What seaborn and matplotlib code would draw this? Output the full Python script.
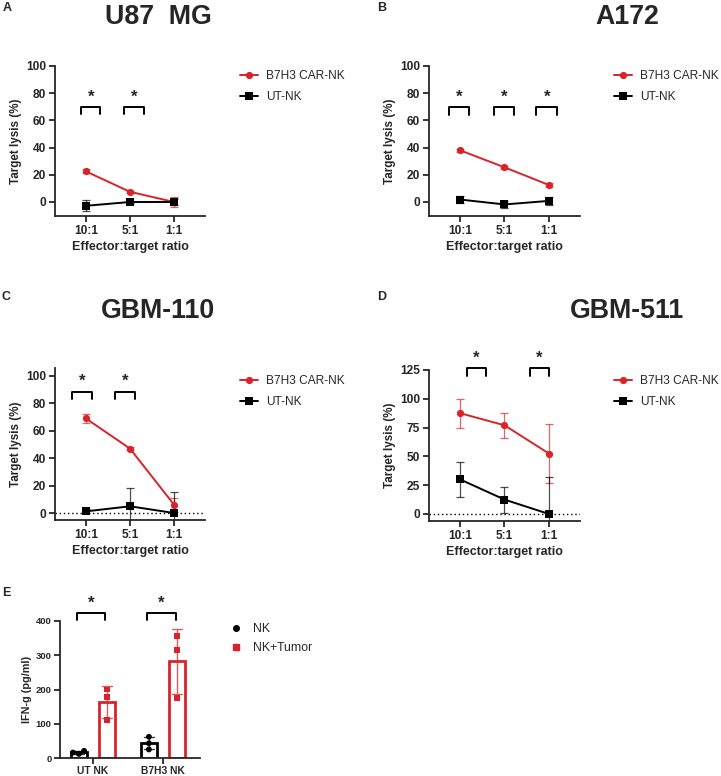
import numpy as np
import pandas as pd
import matplotlib
matplotlib.use("Agg")
import matplotlib.pyplot as plt
from matplotlib.lines import Line2D
import seaborn as sns

# ---- data ----
ratios = ["10:1", "5:1", "1:1"]
groups = ["B7H3 CAR-NK", "UT-NK"]

u87_car = [22.5, 7.5, 0.0]
u87_car_sd = [1.5, 0.8, 4.0]
u87_ut = [-2.8, 0.0, 0.0]
u87_ut_sd = [3.9, 1.0, 2.5]

a172_car = [38.0, 25.5, 12.5]
a172_car_sd = [1.0, 1.0, 1.5]
a172_ut = [1.8, -1.8, 0.8]
a172_ut_sd = [2.8, 2.8, 3.0]

gbm110_car = [69.0, 47.0, 6.0]
gbm110_car_sd = [3.0, 1.0, 5.0]
gbm110_ut = [1.2, 4.9, 0.0]
gbm110_ut_sd = [1.5, 13.0, 15.5]

gbm511_car = [87.5, 77.0, 52.5]
gbm511_car_sd = [12.6, 10.7, 25.5]
gbm511_ut = [30.0, 12.5, 0.0]
gbm511_ut_sd = [15.5, 11.3, 31.8]

# significance brackets: (x start, x end, top, leg bottom)
u87_sig = [(-0.1, 0.33, 70, 65), (0.87, 1.32, 70, 65)]
a172_sig = [(-0.25, 0.2, 70, 64), (0.76, 1.21, 70, 64), (1.72, 2.18, 70, 64)]
gbm110_sig = [(-0.32, 0.13, 88.5, 83.5), (0.66, 1.11, 88.5, 83.5)]
gbm511_sig = [(0.15, 0.59, 126.5, 120), (1.57, 2.01, 126.5, 120)]

ifn_groups = ["UT NK", "B7H3 NK"]
conds = ["NK", "NK+Tumor"]
ut_nk = [12, 16, 21]
ut_tumor = [200, 179, 111]
b7_nk = [62, 43, 25]
b7_tumor = [355, 316, 176]
ifn_sig = [(-0.23, 0.17, 423, 404), (0.77, 1.19, 423, 404)]

RED = "#d9232a"
BLACK = "#000000"

sns.set_style("ticks")
plt.rcParams["font.family"] = ["Liberation Sans", "DejaVu Sans"]
plt.rcParams["axes.linewidth"] = 1.3
plt.rcParams["xtick.major.width"] = 1.3
plt.rcParams["ytick.major.width"] = 1.3
plt.rcParams["xtick.major.size"] = 4
plt.rcParams["ytick.major.size"] = 4

W, H = 721, 776
fig = plt.figure(figsize=(W / 100, H / 100), dpi=100)


def px_axes(left, top, right, bottom):
    return fig.add_axes([left / W, 1 - bottom / H, (right - left) / W, (bottom - top) / H])


def brackets(ax, sig, star_dy):
    for x0, x1, top, leg in sig:
        ax.plot([x0, x0, x1, x1], [leg, top, top, leg], color="black", lw=1.4, clip_on=False)
        ax.text((x0 + x1) / 2, top + star_dy, "*", ha="center", va="center",
                fontsize=12, fontweight="bold", clip_on=False)


def lysis_panel(ax, car, car_sd, ut, ut_sd, ylim, yticks, sig, star_dy, legend_xy, zero_line):
    df = pd.DataFrame({
        "ratio": ratios * 2,
        "lysis": car + ut,
        "group": [groups[0]] * 3 + [groups[1]] * 3,
    })
    if zero_line:
        ax.axhline(0, color="black", lw=1.0, ls=(0, (1, 2)), zorder=0)
    ax.errorbar(ratios, car, yerr=car_sd, fmt="none", ecolor=RED, elinewidth=0.9,
                capsize=3, capthick=0.9, alpha=0.7, zorder=2)
    ax.errorbar(ratios, ut, yerr=ut_sd, fmt="none", ecolor=BLACK, elinewidth=0.9,
                capsize=3, capthick=0.9, alpha=0.7, zorder=2)
    sns.lineplot(data=df, x="ratio", y="lysis", hue="group", style="group",
                 palette={groups[0]: RED, groups[1]: BLACK},
                 markers={groups[0]: "o", groups[1]: "s"}, dashes=False,
                 markersize=5.2, markeredgewidth=0, linewidth=1.4, ax=ax, zorder=3)
    ax.set_xlim(-0.7, 2.7)
    ax.set_ylim(*ylim)
    ax.set_yticks(yticks)
    ax.set_xlabel("Effector:target ratio", fontsize=9, fontweight="bold", labelpad=3)
    ax.set_ylabel("Target lysis (%)", fontsize=8.4, fontweight="bold", labelpad=3)
    for t in ax.get_xticklabels() + ax.get_yticklabels():
        t.set_fontweight("bold")
        t.set_fontsize(8.6)
    ax.tick_params(pad=2.5)
    sns.despine(ax=ax)
    brackets(ax, sig, star_dy)
    handles, labels = ax.get_legend_handles_labels()
    ax.legend(handles, labels, loc="upper left",
              bbox_to_anchor=(legend_xy[0] / W, 1 - legend_xy[1] / H),
              bbox_transform=fig.transFigure, frameon=False, fontsize=8.6,
              handlelength=1.5, handletextpad=0.7, labelspacing=0.75,
              borderaxespad=0, borderpad=0)


axA = px_axes(55, 66, 205, 216)
lysis_panel(axA, u87_car, u87_car_sd, u87_ut, u87_ut_sd, (-10.3, 100),
            [0, 20, 40, 60, 80, 100], u87_sig, 7, (240, 70), False)

axB = px_axes(429, 66, 580, 216)
lysis_panel(axB, a172_car, a172_car_sd, a172_ut, a172_ut_sd, (-10.3, 100),
            [0, 20, 40, 60, 80, 100], a172_sig, 7, (614, 70), False)

axC = px_axes(55, 368, 205, 520)
lysis_panel(axC, gbm110_car, gbm110_car_sd, gbm110_ut, gbm110_ut_sd, (-5.1, 105.8),
            [0, 20, 40, 60, 80, 100], gbm110_sig, 7.5, (240, 375), True)

axD = px_axes(429, 370, 580, 521)
lysis_panel(axD, gbm511_car, gbm511_car_sd, gbm511_ut, gbm511_ut_sd, (-6.1, 125),
            [0, 25, 50, 75, 100, 125], gbm511_sig, 9, (614, 375), True)

# ---- panel E ----
axE = px_axes(60, 621, 200, 758)
df_e = pd.DataFrame({
    "group": [ifn_groups[0]] * 6 + [ifn_groups[1]] * 6,
    "cond": [conds[0]] * 3 + [conds[1]] * 3 + [conds[0]] * 3 + [conds[1]] * 3,
    "ifn": ut_nk + ut_tumor + b7_nk + b7_tumor,
})
pal_e = {conds[0]: BLACK, conds[1]: RED}
sns.barplot(data=df_e, x="group", y="ifn", hue="cond", hue_order=conds, order=ifn_groups,
            palette=pal_e, fill=False, errorbar="sd", capsize=0.3, width=0.8, gap=0.4,
            linewidth=2, err_kws={"linewidth": 1.0, "alpha": 0.75}, ax=axE, legend=False)
for cond, mk in zip(conds, ["o", "s"]):
    sns.swarmplot(data=df_e[df_e["cond"] == cond], x="group", y="ifn", hue="cond",
                  hue_order=conds, order=ifn_groups, palette=pal_e, dodge=True,
                  marker=mk, size=4.2, linewidth=0, ax=axE, legend=False, zorder=4)
axE.set_xlim(-0.47, 1.53)
axE.set_ylim(0, 400)
axE.set_yticks([0, 100, 200, 300, 400])
axE.set_xlabel("")
axE.set_ylabel("IFN-g (pg/ml)", fontsize=7.8, fontweight="bold", labelpad=3)
for t in axE.get_yticklabels():
    t.set_fontweight("bold")
    t.set_fontsize(6.8)
for t in axE.get_xticklabels():
    t.set_fontweight("bold")
    t.set_fontsize(7.4)
axE.tick_params(axis="x", pad=1.5)
axE.tick_params(axis="y", pad=2)
sns.despine(ax=axE)
brackets(axE, ifn_sig, 28)
e_handles = [Line2D([], [], color=BLACK, marker="o", ls="none", markersize=4),
             Line2D([], [], color=RED, marker="s", ls="none", markersize=4)]
axE.legend(e_handles, conds, loc="upper left", bbox_to_anchor=(230 / W, 1 - 623 / H),
           bbox_transform=fig.transFigure, frameon=False, fontsize=8.8,
           handlelength=1.0, handletextpad=0.9, labelspacing=0.6,
           borderaxespad=0, borderpad=0)

# ---- titles and panel letters ----
titles = [("U87  MG", 158, 17), ("A172", 627, 17), ("GBM-110", 158, 311), ("GBM-511", 627, 311)]
for txt, x, y in titles:
    fig.text(x / W, 1 - y / H, txt, ha="center", va="center", fontsize=19.3, fontweight="bold")
letters = [("A", 3, 8), ("B", 377, 8), ("C", 2, 297), ("D", 377, 297), ("E", 2, 593)]
for txt, x, y in letters:
    fig.text(x / W, 1 - y / H, txt, ha="left", va="center", fontsize=9, fontweight="bold")

fig.savefig("out.png", dpi=100)
